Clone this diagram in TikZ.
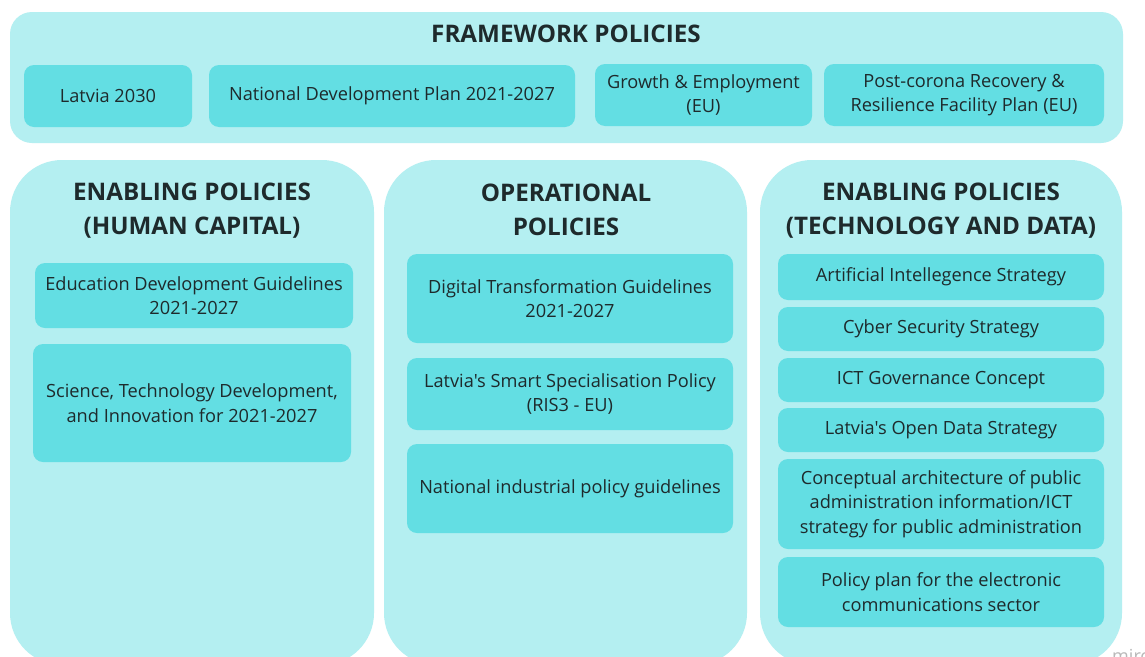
\documentclass[tikz,border=0pt]{standalone}
\usepackage{fontspec}
\setmainfont{Open Sans}[Ligatures=TeXOff]
\definecolor{outerc}{HTML}{B4EFF1}
\definecolor{innerc}{HTML}{63DEE3}
\definecolor{txtc}{HTML}{1E2A2C}
\definecolor{wmc}{HTML}{B8B8B8}
\newcommand{\bodyfont}{\fontsize{18.2}{24.5}\selectfont}
\newcommand{\headfont}{\fontsize{24.2}{33.5}\selectfont\bfseries}
\tikzset{
  panel/.style={fill=outerc, rounded corners=52pt, inner sep=0pt, minimum width=#1},
  frame/.style={fill=outerc, rounded corners=22pt, inner sep=0pt},
  item/.style={fill=innerc, rounded corners=10pt, inner sep=0pt, align=center, font=\bodyfont, text=txtc},
  head/.style={align=center, font=\headfont, text=txtc, inner sep=0pt},
}
\begin{document}
\begin{tikzpicture}[x=1pt,y=-1pt]
\useasboundingbox (0,0) rectangle (1145,656);
\clip (0,0) rectangle (1145,656);
\fill[white] (0,0) rectangle (1145,656);
% framework
\node[frame, minimum width=1113pt, minimum height=131pt] (fw) at (566.5,77.5) {};
\node[head] (fwt) at (566,34) {FRAMEWORK POLICIES};
\node[item, minimum width=168pt, minimum height=62pt] (lv) at (108,96) {Latvia 2030};
\node[item, minimum width=366pt, minimum height=62pt] (ndp) at (392,96) {National Development Plan 2021-2027};
\node[item, minimum width=217pt, minimum height=62pt] (ge) at (703.5,95) {Growth \& Employment\\(EU)};
\node[item, minimum width=280pt, minimum height=62pt] (pc) at (964,95) {Post-corona Recovery \&\\Resilience Facility Plan (EU)};
% panels
\node[panel=364pt, minimum height=505pt] (hc) at (192,412.5) {};
\node[panel=363pt, minimum height=505pt] (op) at (565.5,412.5) {};
\node[panel=362pt, minimum height=505pt] (td) at (941,412.5) {};
\node[head] (hct) at (192,210.5) {ENABLING POLICIES\\(HUMAN CAPITAL)};
\node[head] (opt) at (566,210) {OPERATIONAL\\POLICIES};
\node[head] (tdt) at (941,210.5) {ENABLING POLICIES\\(TECHNOLOGY AND DATA)};
% human capital
\node[item, minimum width=318pt, minimum height=65pt] (edu) at (194,295.5) {Education Development Guidelines\\2021-2027};
\node[item, minimum width=318pt, minimum height=118pt] (sci) at (192,403) {Science, Technology Development,\\and Innovation for 2021-2027};
% operational
\node[item, minimum width=326pt, minimum height=89pt] (dig) at (570,298.5) {Digital Transformation Guidelines\\2021-2027};
\node[item, minimum width=326pt, minimum height=72pt] (ris) at (570,394) {Latvia's Smart Specialisation Policy\\(RIS3 - EU)};
\node[item, minimum width=326pt, minimum height=89pt] (nip) at (570,488.5) {National industrial policy guidelines};
% technology and data
\node[item, minimum width=326pt, minimum height=46pt] (ai) at (941,277) {Artificial Intellegence Strategy};
\node[item, minimum width=326pt, minimum height=44pt] (cyb) at (941,329) {Cyber Security Strategy};
\node[item, minimum width=326pt, minimum height=44pt] (ict) at (941,380) {ICT Governance Concept};
\node[item, minimum width=326pt, minimum height=44pt] (od) at (941,430) {Latvia's Open Data Strategy};
\node[item, minimum width=326pt, minimum height=90pt] (ca) at (941,504) {Conceptual architecture of public\\administration information/ICT\\strategy for public administration};
\node[item, minimum width=326pt, minimum height=70pt] (pp) at (941,592) {Policy plan for the electronic\\communications sector};
% watermark
\node[anchor=base west, text=wmc, font=\fontsize{18}{20}\selectfont, inner sep=0pt] (wm) at (1112,662) {miro};
\end{tikzpicture}
\end{document}
